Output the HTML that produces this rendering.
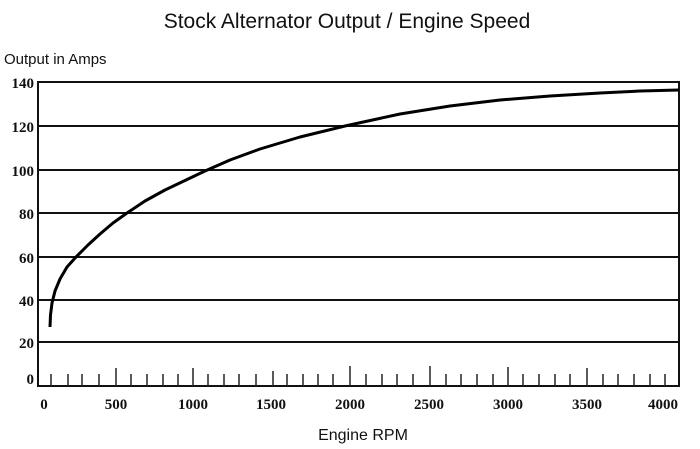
<!DOCTYPE html>
<html><head><meta charset="utf-8"><style>
html,body{margin:0;padding:0;background:#fff;}
svg{display:block}
</style></head><body>
<svg width="700" height="449" xmlns="http://www.w3.org/2000/svg">
<rect width="700" height="449" fill="#fff"/>
<text x="347" y="28" text-anchor="middle" font-family="Liberation Sans, sans-serif" font-size="21" fill="#111">Stock  Alternator Output / Engine Speed</text>
<text x="4" y="64" font-family="Liberation Sans, sans-serif" font-size="15" fill="#111">Output in Amps</text>
<text x="363" y="440" text-anchor="middle" font-family="Liberation Sans, sans-serif" font-size="16" fill="#111">Engine RPM</text>
<g stroke="#111" stroke-width="2" fill="none">
<rect x="38" y="82" width="641" height="304"/>
<line x1="38" y1="126" x2="679" y2="126"/>
<line x1="38" y1="170" x2="679" y2="170"/>
<line x1="38" y1="213" x2="679" y2="213"/>
<line x1="38" y1="257" x2="679" y2="257"/>
<line x1="38" y1="300" x2="679" y2="300"/>
<line x1="38" y1="342" x2="679" y2="342"/>
</g>
<g stroke="#222" stroke-width="1.5">
<line x1="51" y1="374" x2="51" y2="386"/><line x1="68" y1="374" x2="68" y2="386"/><line x1="82" y1="374" x2="82" y2="386"/><line x1="99" y1="374" x2="99" y2="386"/><line x1="116" y1="368" x2="116" y2="386"/>
<line x1="131" y1="374" x2="131" y2="386"/><line x1="147" y1="374" x2="147" y2="386"/><line x1="163" y1="374" x2="163" y2="386"/><line x1="178" y1="374" x2="178" y2="386"/><line x1="193" y1="368" x2="193" y2="386"/>
<line x1="208" y1="374" x2="208" y2="386"/><line x1="224" y1="374" x2="224" y2="386"/><line x1="239" y1="374" x2="239" y2="386"/><line x1="256" y1="374" x2="256" y2="386"/><line x1="273" y1="371" x2="273" y2="386"/>
<line x1="287" y1="374" x2="287" y2="386"/><line x1="303" y1="374" x2="303" y2="386"/><line x1="318" y1="374" x2="318" y2="386"/><line x1="333" y1="374" x2="333" y2="386"/><line x1="350" y1="366" x2="350" y2="386"/>
<line x1="366" y1="374" x2="366" y2="386"/><line x1="382" y1="374" x2="382" y2="386"/><line x1="397" y1="374" x2="397" y2="386"/><line x1="413" y1="374" x2="413" y2="386"/><line x1="430" y1="366" x2="430" y2="386"/>
<line x1="446" y1="374" x2="446" y2="386"/><line x1="461" y1="374" x2="461" y2="386"/><line x1="477" y1="374" x2="477" y2="386"/><line x1="493" y1="374" x2="493" y2="386"/><line x1="508" y1="367" x2="508" y2="386"/>
<line x1="523" y1="374" x2="523" y2="386"/><line x1="539" y1="374" x2="539" y2="386"/><line x1="555" y1="374" x2="555" y2="386"/><line x1="570" y1="374" x2="570" y2="386"/><line x1="587" y1="368" x2="587" y2="386"/>
<line x1="603" y1="374" x2="603" y2="386"/><line x1="618" y1="374" x2="618" y2="386"/><line x1="634" y1="374" x2="634" y2="386"/><line x1="650" y1="374" x2="650" y2="386"/><line x1="665" y1="374" x2="665" y2="386"/>
</g>
<g font-family="Liberation Serif, serif" font-weight="bold" font-size="15" fill="#111" text-anchor="end">
<text x="34" y="88">140</text><text x="34" y="132">120</text><text x="34" y="176">100</text>
<text x="34" y="219">80</text><text x="34" y="263">60</text><text x="34" y="306">40</text>
<text x="34" y="348">20</text><text x="34" y="384">0</text>
</g>
<g font-family="Liberation Serif, serif" font-weight="bold" font-size="15" fill="#111" text-anchor="middle">
<text x="44" y="409">0</text><text x="116" y="409">500</text><text x="193" y="409">1000</text>
<text x="271" y="409">1500</text><text x="350" y="409">2000</text><text x="429" y="409">2500</text>
<text x="508" y="409">3000</text><text x="587" y="409">3500</text><text x="663" y="409">4000</text>
</g>
<polyline fill="none" stroke="#000" stroke-width="3" stroke-linejoin="round" points="50,327 50.5,315 52,303 55,291 60,279 67,267 76,257 88,245 100,234 113,223 127,213 145,201 165,190 186,180 205,171 230,160 260,149 300,137 345,126 400,114 450,106 500,100 550,96 600,93 640,91 679,90"/>
</svg>
</body></html>
